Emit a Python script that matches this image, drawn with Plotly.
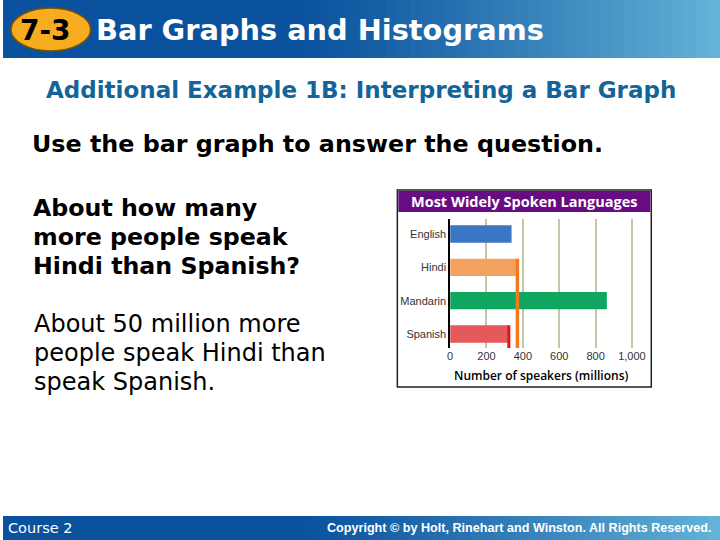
import plotly.graph_objects as go

# ---- data ----
languages = ["English", "Hindi", "Mandarin", "Spanish"]
speakers = [338, 362, 862, 318]
bar_colors = ["#3a76c4", "#f2a25e", "#0fa760", "#e5595a"]
x_ticks = [0, 200, 400, 600, 800, 1000]
x_tick_labels = ["0", "200", "400", "600", "800", "1,000"]
hindi_marker = 370
spanish_marker = 323

W, H = 720, 540
def px(x):
    return x / W
def py(y):
    return 1 - y / H

fig = go.Figure()
ypos = list(range(len(languages)))
fig.add_trace(go.Bar(
    x=speakers, y=ypos, orientation="h", width=0.52,
    marker=dict(color=bar_colors, line=dict(width=0)),
    hoverinfo="skip", showlegend=False,
))
# marker lines comparing Hindi and Spanish
fig.add_trace(go.Scatter(x=[hindi_marker, hindi_marker], y=[1 - 0.26, 3.45], mode="lines",
                         line=dict(color="#f27a1c", width=3.5), showlegend=False, hoverinfo="skip"))
fig.add_trace(go.Scatter(x=[spanish_marker, spanish_marker], y=[3 - 0.26, 3.45], mode="lines",
                         line=dict(color="#e01515", width=3), showlegend=False, hoverinfo="skip"))

shapes = []
# header / footer gradient
n = 60
c0 = (10, 82, 158)
c1 = (100, 178, 215)
for i in range(n):
    t = i / (n - 1)
    t2 = max(0.0, (t - 0.4) / 0.6) ** 1.2
    r = int(c0[0] + (c1[0] - c0[0]) * t2)
    g = int(c0[1] + (c1[1] - c0[1]) * t2)
    b = int(c0[2] + (c1[2] - c0[2]) * t2)
    col = f"rgb({r},{g},{b})"
    shapes.append(dict(type="rect", xref="paper", yref="paper", x0=i / n, x1=(i + 1) / n + 0.002,
                       y0=py(58), y1=py(0), fillcolor=col, line=dict(width=0), layer="below"))
    shapes.append(dict(type="rect", xref="paper", yref="paper", x0=i / n, x1=(i + 1) / n + 0.002,
                       y0=py(540), y1=py(516), fillcolor=col, line=dict(width=0), layer="below"))
# orange badge
shapes.append(dict(type="circle", xref="paper", yref="paper", x0=px(8), x1=px(88), y0=py(51), y1=py(8),
                   fillcolor="#f7ab1f", line=dict(color="#7a5200", width=1.5), layer="below"))
# chart box
shapes.append(dict(type="rect", xref="paper", yref="paper", x0=px(396), x1=px(651), y0=py(387), y1=py(190),
                   fillcolor="white", line=dict(color="#222", width=1.5), layer="below"))
shapes.append(dict(type="rect", xref="paper", yref="paper", x0=px(397), x1=px(650), y0=py(212), y1=py(191),
                   fillcolor="#680c84", line=dict(width=0), layer="below"))

annotations = [
    dict(text="<b>7-3</b>", x=px(43), y=py(30), font=dict(family="DejaVu Sans", size=28, color="black")),
    dict(text="<b>Bar Graphs and Histograms</b>", x=px(91), y=py(30), xanchor="left",
         font=dict(family="DejaVu Sans", size=28.8, color="white")),
    dict(text="<b>Additional Example 1B: Interpreting a Bar Graph</b>", x=px(359), y=py(90),
         font=dict(family="DejaVu Sans", size=23, color="#14649a")),
    dict(text="<b>Use the bar graph to answer the question.</b>", x=px(27), y=py(144), xanchor="left",
         font=dict(family="DejaVu Sans", size=23.8, color="black")),
    dict(text="<b>About how many</b>", x=px(28), y=py(208), xanchor="left",
         font=dict(family="DejaVu Sans", size=23.7, color="black")),
    dict(text="<b>more people speak</b>", x=px(28), y=py(237), xanchor="left",
         font=dict(family="DejaVu Sans", size=23.7, color="black")),
    dict(text="<b>Hindi than Spanish?</b>", x=px(28), y=py(266), xanchor="left",
         font=dict(family="DejaVu Sans", size=23.7, color="black")),
    dict(text="About 50 million more", x=px(29), y=py(324), xanchor="left",
         font=dict(family="DejaVu Sans", size=24, color="black")),
    dict(text="people speak Hindi than", x=px(29), y=py(353), xanchor="left",
         font=dict(family="DejaVu Sans", size=24, color="black")),
    dict(text="speak Spanish.", x=px(29), y=py(382), xanchor="left",
         font=dict(family="DejaVu Sans", size=24, color="black")),
    dict(text="Course 2", x=px(3), y=py(528), xanchor="left",
         font=dict(family="DejaVu Sans", size=14.5, color="white")),
    dict(text="<b>Copyright © by Holt, Rinehart and Winston. All Rights Reserved.</b>", x=px(713), y=py(528),
         xanchor="right", font=dict(family="Liberation Sans Narrow, Liberation Sans", size=12.6, color="white")),
    dict(text="<b>Most Widely Spoken Languages</b>", x=px(523), y=py(201),
         font=dict(family="Open Sans", size=14.5, color="white")),
    dict(text="Number of speakers (millions)", x=px(540), y=py(375),
         font=dict(family="Open Sans", size=12, color="black", weight=600)),
]
for a in annotations:
    a.update(xref="paper", yref="paper", showarrow=False)
    a.setdefault("xanchor", "center")
    a["yanchor"] = "middle"

fig.update_layout(
    width=W, height=H,
    margin=dict(l=0, r=0, t=0, b=0),
    paper_bgcolor="white",
    plot_bgcolor="#fdf9df",
    shapes=shapes,
    annotations=annotations,
    bargap=0.48,
    xaxis=dict(domain=[px(449), px(648)], range=[0, 1090], tickvals=x_ticks, ticktext=x_tick_labels,
               showgrid=True, gridcolor="#c9c3a8", gridwidth=1.5, zeroline=False, showline=False,
               ticks="", tickfont=dict(family="Liberation Sans Narrow, Liberation Sans", size=11, color="#333"),
               fixedrange=True),
    yaxis=dict(domain=[py(348), py(219)], range=[3.42, -0.45], tickvals=ypos, ticktext=languages,
               showgrid=False, zeroline=False, showline=True, linecolor="black", linewidth=1.5,
               ticks="", tickfont=dict(family="Liberation Sans Narrow, Liberation Sans", size=11, color="#333"),
               fixedrange=True),
)
fig.write_html("out.html", config={"displayModeBar": False},
               post_script="document.body.style.margin='0';document.body.style.overflow='hidden';")
